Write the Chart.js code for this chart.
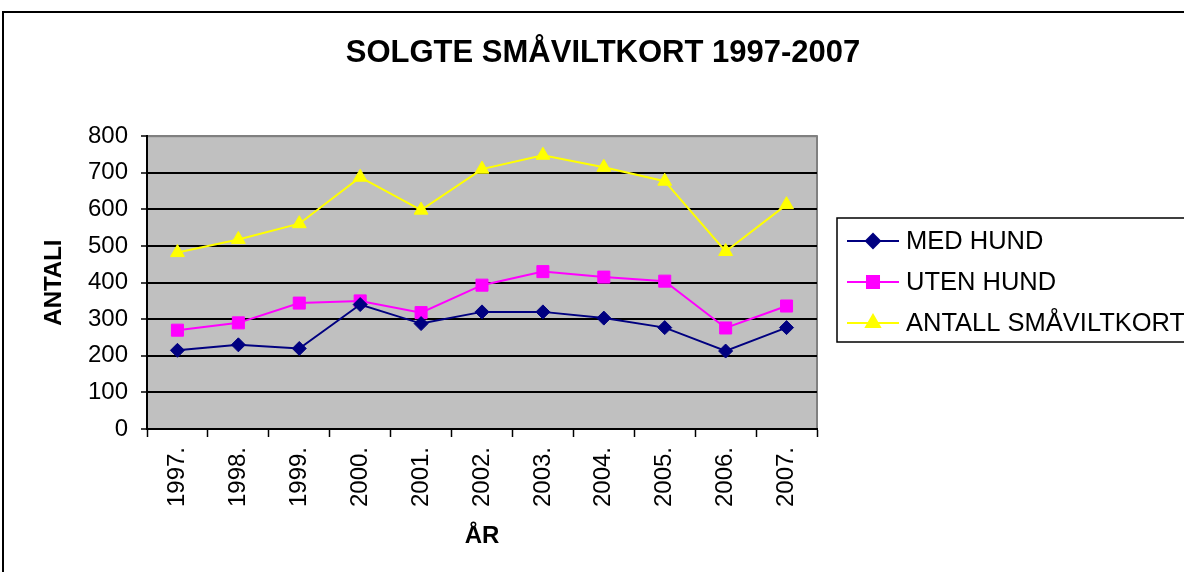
<!DOCTYPE html>
<html>
<head>
<meta charset="utf-8">
<script src="https://cdn.jsdelivr.net/npm/chart.js@4/dist/chart.umd.min.js"></script>
<style>
  html, body { margin: 0; padding: 0; background: #fff; overflow: hidden; }
  #wrap { position: relative; width: 1184px; height: 572px; }
  #frame { position: absolute; left: 2px; top: 11px; width: 1300px; height: 700px; border: 2px solid #000; }
  #chart { position: absolute; left: 0; top: 0; }
</style>
</head>
<body>
<div id="wrap">
  <div id="frame"></div>
  <canvas id="chart" width="1184" height="572"></canvas>
</div>
<script>
// data
const aar = ["1997.", "1998.", "1999.", "2000.", "2001.", "2002.", "2003.", "2004.", "2005.", "2006.", "2007."];
const medHund = [215, 230, 220, 340, 288, 320, 320, 303, 277, 213, 277];
const utenHund = [270, 290, 344, 350, 318, 393, 430, 415, 404, 276, 336];
const antallKort = [482, 518, 561, 688, 598, 710, 748, 715, 677, 485, 613];
const serieNavn = ["MED HUND", "UTEN HUND", "ANTALL SMÅVILTKORT"];
const serieFarge = ["#000080", "#FF00FF", "#FFFF00"];
const yTicks = [0, 100, 200, 300, 400, 500, 600, 700, 800];

const FONT = "'Liberation Sans', Arial, sans-serif";

// grå plotflate med kant
const plotBg = {
  id: "plotBg",
  beforeDraw(chart) {
    const { ctx, chartArea: a } = chart;
    ctx.save();
    ctx.fillStyle = "#C0C0C0";
    ctx.fillRect(a.left, a.top, a.right - a.left, a.bottom - a.top);
    ctx.strokeStyle = "#808080";
    ctx.lineWidth = 2;
    ctx.strokeRect(a.left, a.top, a.right - a.left, a.bottom - a.top);
    ctx.restore();
  }
};

// forklaring i ramme, strek + markør som i Excel
const excelLegend = {
  id: "excelLegend",
  afterDraw(chart) {
    const { ctx, chartArea: a } = chart;
    const left = a.right + 20;
    const top = 218;
    ctx.save();
    ctx.strokeStyle = "#000";
    ctx.lineWidth = 1.5;
    ctx.strokeRect(left, top, 400, 124);
    chart.data.datasets.forEach((ds, i) => {
      const y = top + 23 + i * 41;
      ctx.strokeStyle = ds.borderColor;
      ctx.fillStyle = ds.backgroundColor;
      ctx.lineWidth = 2;
      ctx.beginPath();
      ctx.moveTo(left + 10, y);
      ctx.lineTo(left + 62, y);
      ctx.stroke();
      Chart.helpers.drawPoint(ctx, {
        pointStyle: ds.pointStyle,
        radius: ds.pointRadius,
        rotation: 0,
        borderWidth: 1
      }, left + 36, y);
      ctx.fillStyle = "#000";
      ctx.font = "25.5px " + FONT;
      ctx.textAlign = "left";
      ctx.textBaseline = "middle";
      ctx.fillText(ds.label, left + 69, y + 1);
    });
    ctx.restore();
  }
};

new Chart(document.getElementById("chart"), {
  type: "line",
  data: {
    labels: aar,
    datasets: [
      {
        label: serieNavn[0],
        data: medHund,
        yAxisID: "y",
        borderColor: serieFarge[0],
        backgroundColor: serieFarge[0],
        borderWidth: 2,
        pointStyle: "rectRot",
        pointRadius: 7,
        pointBorderWidth: 1
      },
      {
        label: serieNavn[1],
        data: utenHund,
        yAxisID: "y",
        borderColor: serieFarge[1],
        backgroundColor: serieFarge[1],
        borderWidth: 2,
        pointStyle: "rect",
        pointRadius: 8.5,
        pointBorderWidth: 1
      },
      {
        label: serieNavn[2],
        data: antallKort,
        yAxisID: "y",
        borderColor: serieFarge[2],
        backgroundColor: serieFarge[2],
        borderWidth: 2,
        pointStyle: "triangle",
        pointRadius: 8,
        pointBorderWidth: 1
      }
    ]
  },
  options: {
    responsive: false,
    animation: false,
    layout: { padding: { left: 22, right: 0, top: 0, bottom: 0 } },
    plugins: {
      legend: { display: false },
      tooltip: { enabled: false },
      title: {
        display: true,
        text: "SOLGTE SMÅVILTKORT 1997-2007",
        color: "#000",
        font: { family: FONT, size: 31, weight: "bold" },
        padding: { top: 35, bottom: 64 }
      }
    },
    scales: {
      x: {
        offset: true,
        grid: {
          offset: true,
          drawOnChartArea: false,
          drawTicks: true,
          tickLength: 8,
          tickColor: "#000",
          tickWidth: 1.5
        },
        border: { color: "#000", width: 2 },
        ticks: {
          color: "#000",
          font: { family: FONT, size: 24 },
          maxRotation: 90,
          minRotation: 90,
          padding: 10,
          autoSkip: false
        },
        title: {
          display: true,
          text: "ÅR",
          color: "#000",
          font: { family: FONT, size: 24, weight: "bold" },
          padding: { top: 0, bottom: 21 }
        },
        afterFit(scale) { scale.height = 143; }
      },
      y: {
        min: 0,
        max: 800,
        afterBuildTicks(scale) { scale.ticks = yTicks.map(v => ({ value: v })); },
        grid: {
          color: (c) => (c.tick && c.tick.value === 800 ? "#808080" : "#000"),
          lineWidth: 2,
          tickLength: 6,
          tickColor: "#000",
          tickWidth: 1.5
        },
        border: { color: "#000", width: 2 },
        ticks: {
          color: "#000",
          font: { family: FONT, size: 24 },
          padding: 13
        },
        title: {
          display: true,
          text: "ANTALI",
          color: "#000",
          font: { family: FONT, size: 24, weight: "bold" },
          padding: { top: 18, bottom: 0 }
        },
        afterFit(scale) { scale.width = 125; }
      },
      // tom akse som holder plass til forklaringen til høyre
      plass: {
        type: "linear",
        position: "right",
        display: true,
        grid: { display: false },
        border: { display: false },
        ticks: { display: false },
        afterFit(scale) { scale.width = 367; }
      }
    }
  },
  plugins: [plotBg, excelLegend]
});
</script>
</body>
</html>
